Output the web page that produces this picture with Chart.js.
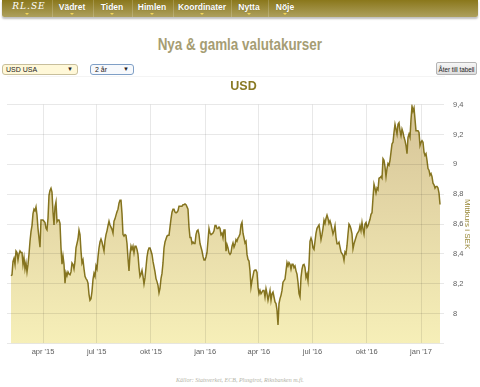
<!DOCTYPE html>
<html>
<head>
<meta charset="utf-8">
<script src="https://cdn.jsdelivr.net/npm/chart.js@4/dist/chart.umd.min.js"></script>
<style>
  html, body { margin:0; padding:0; width:480px; height:387px; background:#fff; overflow:hidden; font-family:"Liberation Sans", Arial, sans-serif; }
  #nav { position:absolute; left:2px; top:0; width:476px; height:17px; background:linear-gradient(#8a771b, #ada05e); box-shadow:0 2px 2px rgba(0,0,0,0.25); border-radius:0 0 2px 2px; }
  .item { position:absolute; top:2px; color:#fff; font-family:"Liberation Sans Narrow","Liberation Sans",sans-serif; font-weight:bold; font-size:8.5px; transform:translateX(-50%); white-space:nowrap; text-shadow:0 0 1px rgba(0,0,0,0.3); }
  .tri { position:absolute; top:13px; width:0; height:0; border-left:2px solid transparent; border-right:2px solid transparent; border-top:2px solid #f3d65a; transform:translateX(-50%); }
  .sep { position:absolute; top:0; width:1px; height:17px; background:rgba(255,255,255,0.18); }
  #logo { position:absolute; left:27px; top:1px; transform:translateX(-50%); color:#fff; font-family:"DejaVu Serif", serif; font-style:italic; font-size:9px; letter-spacing:1px; }
  #h1 { position:absolute; left:0; width:480px; top:36px; text-align:center; }
  #h1 span { display:inline-block; font-family:"Liberation Sans Narrow","Liberation Sans",sans-serif; font-weight:bold; font-size:16px; color:#a69d73; transform:scaleX(0.84); white-space:nowrap; }
  .sel { position:absolute; height:9px; border-radius:3px; font-size:7px; line-height:9px; color:#222; box-sizing:content-box; }
  .sel .arr { position:absolute; right:4px; top:0; font-size:6px; }
  #btn { position:absolute; left:436px; top:62px; width:41px; height:13px; border:1px solid #b4b4b4; border-radius:2px; background:linear-gradient(#f6f6f6,#dedede); font-size:6.3px; line-height:13px; text-align:center; color:#222; white-space:nowrap; box-sizing:border-box; }
  #box { position:absolute; left:0; top:76px; width:480px; height:300px; }
  #foot { position:absolute; left:0; width:480px; top:377px; text-align:center; font-family:"Liberation Serif", serif; font-style:italic; font-size:6px; color:#b3b3a6; }
</style>
</head>
<body>
<div id="nav">
  <div id="logo">RL.SE</div>
  <div class="tri" style="left:25px"></div>
  <div class="sep" style="left:50px"></div>
  <div class="item" style="left:70px">Vädret</div><div class="tri" style="left:70px"></div>
  <div class="sep" style="left:91px"></div>
  <div class="item" style="left:110px">Tiden</div><div class="tri" style="left:110px"></div>
  <div class="sep" style="left:130px"></div>
  <div class="item" style="left:150px">Himlen</div><div class="tri" style="left:150px"></div>
  <div class="sep" style="left:171px"></div>
  <div class="item" style="left:200px">Koordinater</div><div class="tri" style="left:200px"></div>
  <div class="sep" style="left:229px"></div>
  <div class="item" style="left:247px">Nytta</div><div class="tri" style="left:247px"></div>
  <div class="sep" style="left:266px"></div>
  <div class="item" style="left:283px">Nöje</div><div class="tri" style="left:283px"></div>
</div>
<div id="h1"><span>Nya &amp; gamla valutakurser</span></div>
<div class="sel" style="left:2px;top:64px;width:74px;border:1px solid #c8bf9c;background:#fff8d8;"><span style="padding-left:3px">USD USA</span><span class="arr">▼</span></div>
<div class="sel" style="left:90px;top:64px;width:42px;border:1px solid #7f9fc6;background:#f7f9fc;"><span style="padding-left:4px">2 år</span><span class="arr">▼</span></div>
<div id="btn">Åter till tabell</div>
<div id="box"><canvas id="c"></canvas></div>
<div id="foot">Källor: Statsverket, ECB, Plusgirot, Riksbanken m.fl.</div>
<script>
// Day numbers counted from 2015-01-01
const startDay = 35.73;     // first observation (early Feb 2015)
const dayStep = 1.6958;     // spacing between observations, days
const axisMinDay = 28.95;
const axisMaxDay = 770.0;
const tickDays = [90, 181, 273, 365, 456, 547, 639, 731];
const tickLabels = ["apr '15", "jul '15", "okt '15", "jan '16", "apr '16", "jul '16", "okt '16", "jan '17"];
const yTicks = [7.8, 8.0, 8.2, 8.4, 8.6, 8.8, 9.0, 9.2, 9.4];

const usdSek = [
8.254, 8.26, 8.35, 8.37, 8.33, 8.42, 8.41, 8.36, 8.40, 8.42,
8.41, 8.41, 8.33, 8.375, 8.30, 8.34, 8.28, 8.33, 8.40, 8.485,
8.55, 8.59, 8.67, 8.70, 8.69, 8.715, 8.66, 8.57, 8.507, 8.445,
8.627, 8.627, 8.627, 8.62, 8.61, 8.572, 8.561, 8.638, 8.792, 8.825,
8.840, 8.814, 8.682, 8.594, 8.715, 8.748, 8.616, 8.627, 8.627, 8.605,
8.441, 8.331, 8.386, 8.331, 8.204, 8.276, 8.254, 8.28, 8.265, 8.26,
8.28, 8.34, 8.33, 8.30, 8.35, 8.441, 8.47, 8.50, 8.56, 8.53,
8.42, 8.34, 8.36, 8.30, 8.25, 8.235, 8.225, 8.205, 8.13, 8.09,
8.10, 8.15, 8.23, 8.27, 8.25, 8.32, 8.30, 8.38, 8.44, 8.48,
8.50, 8.48, 8.45, 8.42, 8.49, 8.53, 8.555, 8.59, 8.62,
8.594, 8.58, 8.565, 8.54, 8.62, 8.635, 8.66, 8.682, 8.70, 8.74,
8.759, 8.759, 8.67, 8.53, 8.52, 8.53, 8.525, 8.47, 8.37, 8.287,
8.397, 8.452, 8.430, 8.452, 8.408, 8.452, 8.452, 8.43, 8.395, 8.31,
8.25, 8.265, 8.29, 8.25, 8.20, 8.24, 8.31, 8.38, 8.42, 8.44,
8.44, 8.42, 8.397, 8.35, 8.315, 8.28, 8.235, 8.215, 8.19, 8.14,
8.17, 8.235, 8.27, 8.34, 8.44, 8.48, 8.50, 8.52, 8.525, 8.525,
8.58, 8.635, 8.68, 8.70, 8.70, 8.68, 8.675, 8.68, 8.69, 8.72,
8.72, 8.72, 8.72, 8.73, 8.73, 8.735, 8.73, 8.715, 8.70, 8.58,
8.51, 8.51, 8.47, 8.48, 8.47, 8.47, 8.53, 8.555, 8.561, 8.53,
8.47, 8.445, 8.42, 8.385, 8.36, 8.36, 8.38, 8.41, 8.49, 8.57,
8.54, 8.53, 8.535, 8.54, 8.555, 8.59, 8.59, 8.57, 8.57, 8.58,
8.572,
8.529, 8.539, 8.507, 8.561, 8.561, 8.419, 8.463, 8.441, 8.408, 8.397,
8.408, 8.452, 8.474, 8.445, 8.463, 8.496, 8.485, 8.507, 8.518, 8.533,
8.594, 8.612, 8.539, 8.507, 8.474, 8.485, 8.397, 8.364, 8.353, 8.287,
8.178, 8.221, 8.254, 8.287, 8.292, 8.292, 8.276, 8.178, 8.134, 8.156,
8.134, 8.145, 8.156, 8.156, 8.112, 8.167, 8.134, 8.090, 8.123, 8.156,
8.090, 8.134, 8.145, 8.112, 8.079, 8.068, 8.024, 7.925, 8.068, 8.101,
8.123, 8.156, 8.211, 8.221, 8.232, 8.287, 8.342, 8.320, 8.342, 8.331,
8.298, 8.331, 8.331, 8.309, 8.320, 8.287, 8.265, 8.211, 8.134, 8.112,
8.243, 8.298, 8.327, 8.331, 8.309, 8.243, 8.265, 8.221, 8.331, 8.485,
8.507, 8.485, 8.441, 8.430, 8.485, 8.539, 8.572, 8.583, 8.594, 8.550,
8.496, 8.529, 8.572, 8.627, 8.605, 8.638, 8.660, 8.638, 8.605,
8.622,
8.600, 8.567, 8.534, 8.556, 8.589, 8.512, 8.468, 8.468, 8.479, 8.446,
8.413, 8.402, 8.391, 8.358, 8.413, 8.402, 8.457, 8.534, 8.600, 8.589,
8.567, 8.534, 8.435, 8.468, 8.490, 8.512, 8.534, 8.545, 8.556, 8.589,
8.556, 8.611, 8.567, 8.534, 8.600, 8.611, 8.578, 8.589, 8.611, 8.632,
8.665, 8.676, 8.775, 8.867, 8.841, 8.808, 8.841, 8.830, 8.907, 8.911,
8.918, 8.907, 9.038, 9.027, 8.983, 8.918, 8.972, 9.005, 8.994, 9.027,
9.082, 9.137, 9.148, 9.214, 9.268, 9.236, 9.203, 9.268, 9.279, 9.225,
9.192, 9.236, 9.214, 9.181, 9.159, 9.126, 9.071, 9.181, 9.203, 9.181,
9.301, 9.389, 9.356, 9.378, 9.301, 9.225, 9.225, 9.225, 9.214, 9.126,
9.148, 9.159, 9.148, 9.082, 9.060, 9.071, 9.027, 8.972, 8.961, 8.928,
8.939, 8.918, 8.874, 8.863, 8.841, 8.852, 8.852, 8.841, 8.808, 8.731
];

const points = usdSek.map((v, i) => ({ x: startDay + i * dayStep, y: v }));

function fmt(v) {
  if (Math.abs(v - yTicks[0]) < 1e-6) return '';
  return String(+v.toFixed(1)).replace('.', ',');
}

new Chart(document.getElementById('c'), {
  type: 'line',
  data: {
    datasets: [{
      data: points,
      borderColor: '#85741f',
      borderWidth: 1.5,
      pointRadius: 0,
      tension: 0,
      fill: 'start',
      backgroundColor: (ctx) => {
        const ca = ctx.chart.chartArea;
        if (!ca) return 'rgba(230,218,160,0.8)';
        const g = ctx.chart.ctx.createLinearGradient(0, ca.top, 0, ca.bottom);
        g.addColorStop(0, 'rgb(214,196,152)');
        g.addColorStop(1, 'rgb(246,239,184)');
        return g;
      }
    }]
  },
  options: {
    responsive: true,
    maintainAspectRatio: false,
    animation: false,
    events: [],
    layout: { padding: { left: 7, right: 0, top: 0, bottom: 15.4 } },
    plugins: {
      legend: { display: false },
      tooltip: { enabled: false },
      title: {
        display: true,
        text: 'USD',
        color: '#8a7a24',
        font: { family: '"Liberation Sans", Arial, sans-serif', size: 12.5, weight: 'bold' },
        padding: { top: 3, bottom: 10.6 }
      }
    },
    scales: {
      x: {
        type: 'linear',
        min: axisMinDay,
        max: axisMaxDay,
        afterBuildTicks: (s) => { s.ticks = tickDays.map(v => ({ value: v })); },
        ticks: {
          autoSkip: false, maxRotation: 0, padding: 4,
          color: '#606060',
          font: { family: '"Liberation Sans", Arial, sans-serif', size: 7.5 },
          callback: (v, i) => tickLabels[i]
        },
        grid: { color: 'rgba(0,0,0,0.09)', drawTicks: false, z: 1 },
        border: { display: true, color: 'rgba(0,0,0,0.09)' }
      },
      y: {
        type: 'linear',
        position: 'right',
        min: 7.8,
        max: 9.4,
        afterBuildTicks: (s) => { s.ticks = yTicks.map(v => ({ value: v })); },
        afterFit: (s) => { s.width = 36; },
        ticks: {
          padding: 9,
          color: '#606060',
          font: { family: '"Liberation Sans", Arial, sans-serif', size: 7.5 },
          callback: (v) => fmt(v)
        },
        grid: { color: 'rgba(0,0,0,0.09)', drawTicks: false, z: 1 },
        border: { display: false },
        title: {
          display: true,
          text: 'Mittkurs i SEK',
          color: '#9a8a3a',
          font: { family: '"Liberation Sans", Arial, sans-serif', size: 8 },
          padding: { top: 8, bottom: 0 }
        }
      }
    }
  }
});
</script>
</body>
</html>
